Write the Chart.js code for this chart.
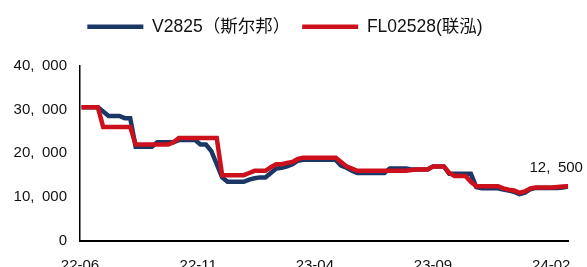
<!DOCTYPE html>
<html>
<head>
<meta charset="utf-8">
<script src="https://cdn.jsdelivr.net/npm/chart.js@4/dist/chart.umd.min.js"></script>
<style>
    html, body { margin: 0; padding: 0; background: #fff; overflow: hidden; }
    #wrap { width: 587px; height: 303px; position: relative; }
</style>
</head>
<body>
<div id="wrap"><canvas id="priceChart"></canvas></div>
<script>
// weekly quotes, first week ending 2022-06-03
const firstWeek = '2022-06-03';
const seriesNames = ['V2825（斯尔邦）', 'FL02528(联泓)'];
const tickLabels = ['22-06', '22-11', '23-04', '23-09', '24-02'];

const v2825 = [
    30500, 30500, 30500, 30500, 29500, 28500, 28500, 28500, 28000, 28000,
    21500, 21500, 21500, 21500, 22500, 22500, 22500, 22500, 23000, 23000,
    23000, 23000, 22000, 22000, 20500, 17500, 14500, 13500, 13500, 13500,
    13500, 14000, 14300, 14500, 14500, 15500, 16500, 16700, 17000, 17500,
    18300, 18500, 18500, 18500, 18500, 18500, 18500, 18500, 17200, 16700,
    16000, 15500, 15500, 15500, 15500, 15500, 15500, 16500, 16500, 16500,
    16500, 16300, 16300, 16300, 16300, 17000, 17000, 17000, 15300, 15300,
    15300, 15300, 15300, 12300, 12000, 12000, 12000, 12000, 11700, 11500,
    11200, 10700, 11000, 11800, 12100, 12100, 12100, 12100, 12100, 12200,
    12400
];

const fl02528 = [
    30500, 30500, 30500, 30500, 26000, 26000, 26000, 26000, 26000, 26000,
    22000, 22000, 22000, 22000, 22000, 22000, 22000, 22500, 23500, 23500,
    23500, 23500, 23500, 23500, 23500, 23500, 15000, 15000, 15000, 15000,
    15000, 15500, 16000, 16000, 16000, 16800, 17500, 17500, 17800, 18000,
    18700, 19000, 19000, 19000, 19000, 19000, 19000, 19000, 18000, 17000,
    16500, 16000, 16000, 16000, 16000, 16000, 16000, 16000, 16000, 16000,
    16000, 16200, 16300, 16300, 16300, 17000, 17000, 17000, 15500, 14800,
    14800, 14800, 13500, 12500, 12500, 12500, 12500, 12500, 12000, 11700,
    11500, 11000, 11300, 12000, 12200, 12200, 12200, 12200, 12300, 12400,
    12500
];

const DAY = 86400000;
function dayNum(str) {
    return Date.parse(str + 'T00:00:00Z') / DAY;
}

// x positions in days, one per week
const startDay = dayNum(firstWeek);
const weekDays = v2825.map((v, i) => startDay + i * 7);

// thousands separator drawn as "40, 000"
function fmt(v) {
    return v.toLocaleString('en-US').replace(',', ',\u2002');
}

const lineColors = ['#1b3766', '#cc101c'];
const baseFont = "'Liberation Sans', 'Noto Sans CJK SC', sans-serif";

// label at the end of the red line
const endLabel = {
    id: 'endLabel',
    afterDatasetsDraw(chart) {
        const meta = chart.getDatasetMeta(1);
        const pt = meta.data[meta.data.length - 1];
        const ctx = chart.ctx;
        ctx.save();
        ctx.font = '15px ' + baseFont;
        ctx.fillStyle = '#111';
        ctx.textAlign = 'center';
        ctx.textBaseline = 'middle';
        ctx.fillText(fmt(fl02528[fl02528.length - 1]), pt.x - 12, pt.y - 18);
        ctx.restore();
    }
};

// push the plot down below the legend
const legendGap = {
    id: 'legendGap',
    beforeInit(chart) {
        const fit = chart.legend.fit;
        chart.legend.fit = function() {
            fit.call(this);
            this.height += 20;
        };
    }
};

function buildChart() {
    const ctx = document.getElementById('priceChart').getContext('2d');
    new Chart(ctx, {
        type: 'line',
        data: {
            datasets: [
                {
                    label: seriesNames[0],
                    data: v2825.map((v, i) => ({ x: weekDays[i], y: v })),
                    borderColor: lineColors[0],
                    backgroundColor: lineColors[0],
                    borderWidth: 4.5,
                    pointRadius: 0,
                    tension: 0,
                    order: 1
                },
                {
                    label: seriesNames[1],
                    data: fl02528.map((v, i) => ({ x: weekDays[i], y: v })),
                    borderColor: lineColors[1],
                    backgroundColor: lineColors[1],
                    borderWidth: 4.5,
                    pointRadius: 0,
                    tension: 0,
                    order: 0
                }
            ]
        },
        options: {
            responsive: true,
            maintainAspectRatio: false,
            animation: false,
            layout: { padding: { top: 6, right: 17, bottom: 12, left: 0 } },
            plugins: {
                tooltip: { enabled: false },
                legend: {
                    position: 'top',
                    labels: {
                        usePointStyle: true,
                        pointStyle: 'line',
                        pointStyleWidth: 56,
                        padding: 12,
                        color: '#111',
                        font: { size: 17.5, family: baseFont },
                        sort: (a, b) => a.datasetIndex - b.datasetIndex
                    }
                }
            },
            scales: {
                x: {
                    type: 'linear',
                    min: dayNum('2022-06-01'),
                    max: weekDays[weekDays.length - 1],
                    grid: { color: 'transparent', drawTicks: false },
                    border: { display: true, color: '#000', width: 2 },
                    afterBuildTicks: scale => {
                        scale.ticks = tickLabels.map(l => ({ value: dayNum('20' + l + '-01') }));
                    },
                    ticks: {
                        padding: 16,
                        maxRotation: 0,
                        autoSkip: false,
                        color: '#111',
                        font: { size: 15, family: baseFont },
                        callback: (v, i) => tickLabels[i]
                    }
                },
                y: {
                    min: 0,
                    max: 40000,
                    grid: { color: 'transparent', drawTicks: false },
                    border: { display: true, color: '#000', width: 1.5 },
                    afterFit: scale => { scale.width = 80; },
                    ticks: {
                        stepSize: 10000,
                        padding: 13,
                        color: '#111',
                        font: { size: 15, family: baseFont },
                        callback: v => fmt(v)
                    }
                }
            }
        },
        plugins: [endLabel, legendGap]
    });
}

window.onload = function() {
    buildChart();
};
</script>
</body>
</html>
